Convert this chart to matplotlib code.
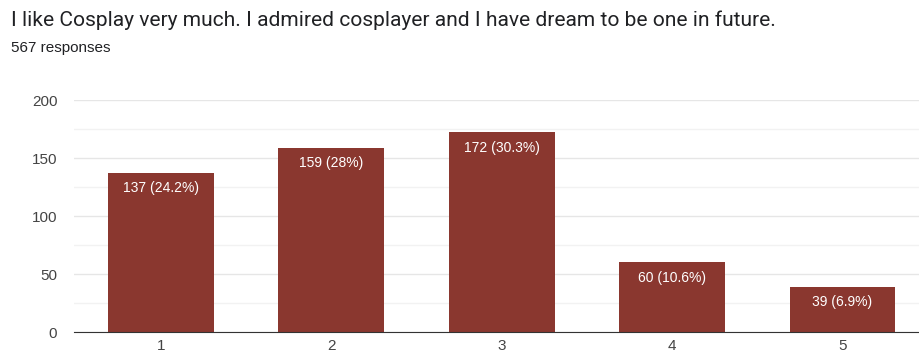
import matplotlib.pyplot as plt
from matplotlib.ticker import MultipleLocator

plt.rcParams['font.family'] = ['Liberation Sans', 'DejaVu Sans']

# survey answers (scale 1-5)
options = ["1", "2", "3", "4", "5"]
counts = [137, 159, 172, 60, 39]
percents = ["24.2%", "28%", "30.3%", "10.6%", "6.9%"]

title = "I like Cosplay very much. I admired cosplayer and I have dream to be one in future."
subtitle = "567 responses"

fig = plt.figure(figsize=(9.2, 3.56), dpi=100)
ax = fig.add_axes([74 / 920, 24 / 356, 1 - 74 / 920, 232 / 356])

xs = range(1, len(options) + 1)
bars = ax.bar(xs, counts, width=0.62, color="#8a372f", zorder=3)

for b, c, p in zip(bars, counts, percents):
    ax.annotate(f"{c} ({p})", (b.get_x() + b.get_width() / 2, c),
                xytext=(0, -11), textcoords="offset points",
                ha="center", va="center", color="white", fontsize=10)

ax.set_xlim(0.49, 5.455)
ax.set_ylim(0, 200)
ax.set_xticks(list(xs))
ax.set_xticklabels(options)
ax.yaxis.set_major_locator(MultipleLocator(50))
ax.yaxis.set_minor_locator(MultipleLocator(25))
ax.grid(axis="y", which="major", color="#e6e6e6", lw=1, zorder=0)
ax.grid(axis="y", which="minor", color="#f2f2f2", lw=1, zorder=0)

for s in ["top", "right", "left"]:
    ax.spines[s].set_visible(False)
ax.spines["bottom"].set_color("#333333")
ax.spines["bottom"].set_zorder(4)
ax.tick_params(axis="both", which="both", length=0, labelsize=11, colors="#444444")
ax.tick_params(axis="y", pad=12)
ax.tick_params(axis="x", pad=5)

fig.text(11 / 920, 1 - 20 / 356, title, fontsize=15.1, color="#202124",
         va="center", family=["Roboto", "DejaVu Sans"])
fig.text(11 / 920, 1 - 48 / 356, subtitle, fontsize=11, color="#202124", va="center")

fig.savefig("out.png", dpi=100)
